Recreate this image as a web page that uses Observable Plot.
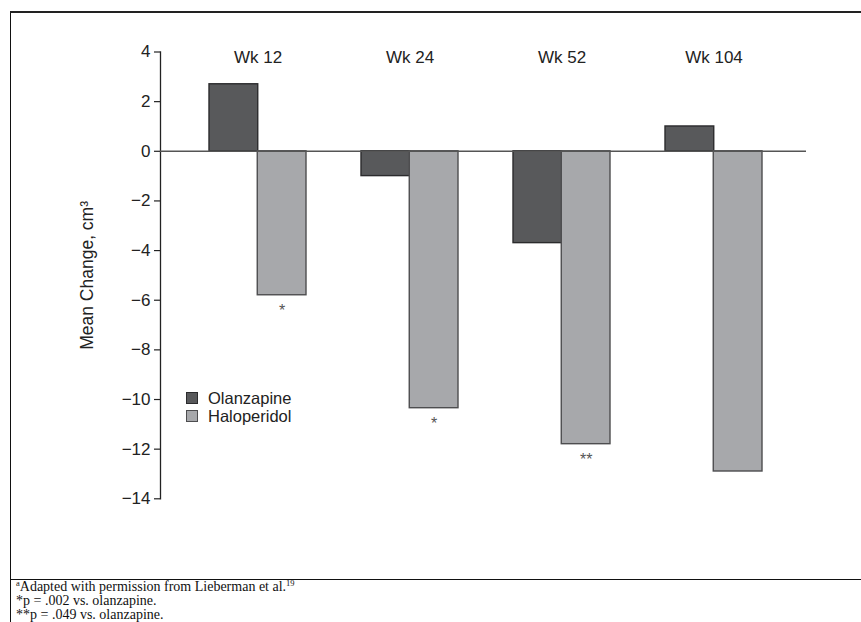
<!DOCTYPE html>
<html>
<head>
<meta charset="utf-8">
<script src="https://cdn.jsdelivr.net/npm/d3@7"></script>
<script src="https://cdn.jsdelivr.net/npm/@observablehq/plot@0.6"></script>
<style>
  html, body { margin: 0; padding: 0; background: #fff; }
  body { width: 861px; height: 622px; overflow: hidden; position: relative; }
  #box { position: absolute; left: 10px; top: 12px; width: 851px; border-left: 1px solid #111; padding-top: 1px; }
  #topline { position: absolute; left: 10px; top: 11px; width: 851px; height: 2px; background: #222; z-index: 5; }
  #chart svg { display: block; }
  #legend { position: absolute; left: 175px; top: 377px; font-family: "Liberation Sans", Arial, sans-serif; font-size: 16.5px; color: #222; }
  #legend .row { display: flex; align-items: center; height: 18px; }
  #legend .sw { width: 10px; height: 10px; margin-right: 10px; box-sizing: content-box; }
  #notes { border-top: 1px solid #111; font-family: "Liberation Serif", "Times New Roman", serif; font-size: 14px; line-height: 14px; color: #111; padding: 0 0 0 5px; }
  #notes sup { font-size: 8.5px; line-height: 0; vertical-align: 5px; }
</style>
</head>
<body>
<div id="topline"></div>
<div id="box">
  <div id="chart"></div>
  <div id="legend"></div>
  <div id="notes">
    <div><sup>a</sup>Adapted with permission from Lieberman et al.<sup>19</sup></div>
    <div>*p = .002 vs. olanzapine.</div>
    <div>**p = .049 vs. olanzapine.</div>
  </div>
</div>
<script>
const weeks = ["Wk 12", "Wk 24", "Wk 52", "Wk 104"];
const olanzapine = [2.7, -1.0, -3.7, 1.0];
const haloperidol = [-5.8, -10.35, -11.8, -12.9];
const significance = ["*", "*", "**", ""];
const seriesNames = ["Olanzapine", "Haloperidol"];
const seriesFill = ["#58595b", "#a7a8ab"];
const seriesStroke = ["#2b2b2d", "#4d4d4f"];
const yTicks = [4, 2, 0, -2, -4, -6, -8, -10, -12, -14];
const yLabel = "Mean Change, cm³";

const olzRows = weeks.map((w, i) => ({week: w, value: olanzapine[i]}));
const halRows = weeks.map((w, i) => ({week: w, value: haloperidol[i], sig: significance[i]}));

const W = 850, H = 566;
const mL = 149, mR = 55, mT = 38.5, mB = 80.7;
const pInner = 0.365, pOuter = 0.3075;
const step = (W - mL - mR) / (weeks.length - pInner + 2 * pOuter);
const bw = step * (1 - pInner);
const half = bw / 2;

const chart = Plot.plot({
  width: W,
  height: H,
  marginTop: mT,
  marginBottom: mB,
  marginLeft: mL,
  marginRight: mR,
  style: {fontFamily: "'Liberation Sans', Arial, sans-serif", fontSize: "17px", color: "#222", background: "#fff"},
  x: {domain: weeks, paddingInner: pInner, paddingOuter: pOuter, align: 0.524, axis: null},
  y: {domain: [-14, 4], axis: null},
  marks: [
    Plot.frame({anchor: "left", stroke: "#222", strokeWidth: 1.3}),
    Plot.axisY(yTicks, {tickSize: 6, tickPadding: 4, fontSize: 17, label: null, stroke: "#222", strokeWidth: 1.2}),
    Plot.barY(olzRows, {x: "week", y: "value", fill: seriesFill[0], stroke: seriesStroke[0], strokeWidth: 1.4, insetRight: half}),
    Plot.barY(halRows, {x: "week", y: "value", fill: seriesFill[1], stroke: seriesStroke[1], strokeWidth: 1.4, insetLeft: half}),
    Plot.ruleY([0], {stroke: "#555", strokeWidth: 1.5}),
    Plot.text(weeks, {x: d => d, text: d => d, frameAnchor: "top", dy: 5.5, lineAnchor: "middle", fontSize: 17, fill: "#222"}),
    Plot.text(halRows, {x: "week", y: "value", text: "sig", dx: bw / 4, dy: 16, lineAnchor: "middle", fontSize: 16, fill: "#555"}),
    Plot.text([yLabel], {text: d => d, frameAnchor: "left", textAnchor: "middle", rotate: -90, dx: -73, lineAnchor: "middle", fontSize: 17.5, fill: "#222"})
  ]
});
document.getElementById("chart").appendChild(chart);

const legend = document.getElementById("legend");
seriesNames.forEach((name, i) => {
  const row = document.createElement("div");
  row.className = "row";
  const sw = document.createElement("span");
  sw.className = "sw";
  sw.style.background = seriesFill[i];
  sw.style.border = "1px solid " + seriesStroke[i];
  const label = document.createElement("span");
  label.textContent = name;
  row.appendChild(sw);
  row.appendChild(label);
  legend.appendChild(row);
});
</script>
</body>
</html>
